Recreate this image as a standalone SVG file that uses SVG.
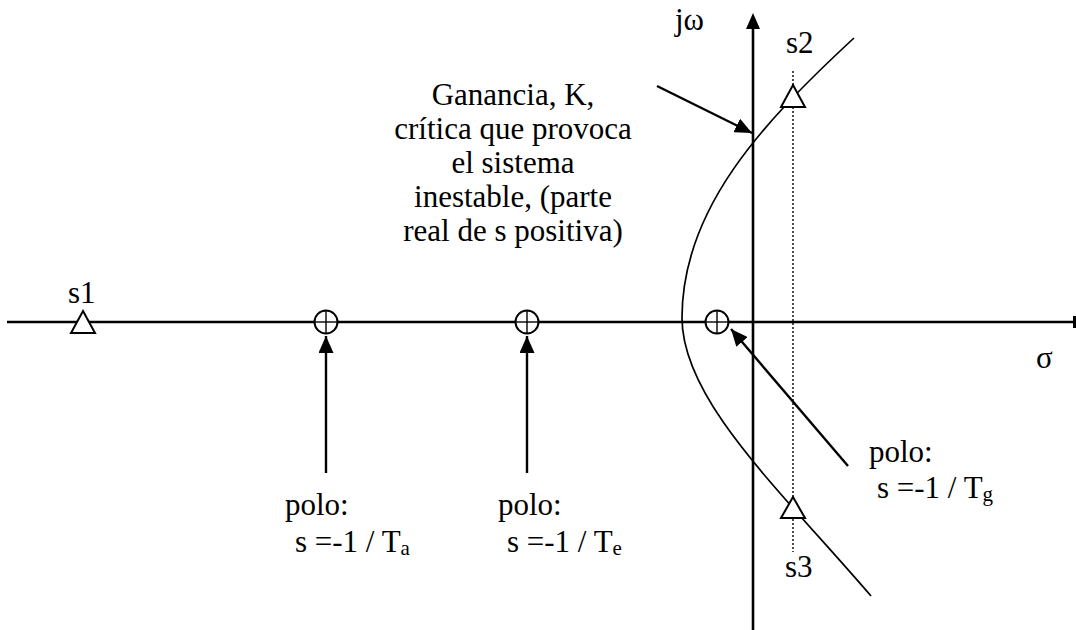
<svg xmlns="http://www.w3.org/2000/svg" width="1076" height="630" viewBox="0 0 1076 630">
<defs>
<style>
.ax{stroke:#000;stroke-width:2.6;fill:none}
.ln{stroke:#000;stroke-width:2.4;fill:none}
.cv{stroke:#000;stroke-width:1.7;fill:none}
.dot{stroke:#000;stroke-width:1.4;stroke-dasharray:2,2;fill:none}
.tri{stroke:#000;stroke-width:2;fill:#fff}
.pole{stroke:#000;stroke-width:2;fill:#fff}
.cross{stroke:#000;stroke-width:1.4}
.t{font-family:"Liberation Serif","Times New Roman",serif;font-size:31px;fill:#000}
.sub{font-size:21px}
</style>
<marker id="ah" viewBox="0 0 17 15" refX="17" refY="7.5" markerWidth="17" markerHeight="15" markerUnits="userSpaceOnUse" orient="auto">
<path d="M0,0 L17,7.5 L0,15 z" fill="#000"/>
</marker>
</defs>
<rect width="1076" height="630" fill="#fff"/>
<g id="axes">
<line class="ax" x1="7" y1="322" x2="1074" y2="322"/>
<rect x="1073" y="316" width="3" height="12" fill="#000"/>
<line class="ax" x1="753" y1="630" x2="753" y2="26"/>
<path d="M753,13 L760,29 L746,29 z" fill="#000"/>
<line class="dot" x1="793" y1="71" x2="793" y2="552"/>
</g>
<g id="locus">
<path class="cv" d="M854,38 C760,125 682,210 682,318 C682,400 780,490 871,596"/>
</g>
<g id="connectors">
<line class="ln" x1="326" y1="473" x2="326" y2="336" marker-end="url(#ah)"/>
<line class="ln" x1="527" y1="473" x2="527" y2="336" marker-end="url(#ah)"/>
<line class="ln" x1="848" y1="466" x2="731" y2="329" marker-end="url(#ah)"/>
<line class="ln" x1="657" y1="86" x2="752" y2="133" marker-end="url(#ah)"/>
</g>
<g id="s1"><path class="tri" d="M83,311 L95,333 L71,333 z"/><text class="t" x="68" y="303">s1</text></g>
<g id="s2"><path class="tri" d="M793,85 L805,107 L781,107 z"/><text class="t" x="786" y="53">s2</text></g>
<g id="s3"><path class="tri" d="M793,497 L805,518 L781,518 z"/><text class="t" x="785" y="577">s3</text></g>
<g id="pole-a"><circle class="pole" cx="326" cy="322" r="11.5"/><line class="cross" x1="314.5" y1="322" x2="337.5" y2="322"/><line class="cross" x1="326" y1="310.5" x2="326" y2="333.5"/>
<text class="t" x="285" y="515">polo:</text><text class="t" x="295" y="552">s =-1 / T<tspan class="sub" dy="3">a</tspan></text></g>
<g id="pole-e"><circle class="pole" cx="527" cy="322" r="11.5"/><line class="cross" x1="515.5" y1="322" x2="538.5" y2="322"/><line class="cross" x1="527" y1="310.5" x2="527" y2="333.5"/>
<text class="t" x="498" y="515">polo:</text><text class="t" x="507" y="552">s =-1 / T<tspan class="sub" dy="3">e</tspan></text></g>
<g id="pole-g"><circle class="pole" cx="717" cy="322" r="11.5"/><line class="cross" x1="705.5" y1="322" x2="728.5" y2="322"/><line class="cross" x1="717" y1="310.5" x2="717" y2="333.5"/>
<text class="t" x="869" y="462">polo:</text><text class="t" x="877" y="498">s =-1 / T<tspan class="sub" dy="3">g</tspan></text></g>
<g id="labels">
<text class="t" x="675" y="30">jω</text>
<text class="t" x="1036" y="368">σ</text>
</g>
<g id="note">
<text class="t" text-anchor="middle" x="513"><tspan x="513" y="105">Ganancia, K,</tspan><tspan x="513" y="139">crítica que provoca</tspan><tspan x="513" y="173">el sistema</tspan><tspan x="513" y="207">inestable, (parte</tspan><tspan x="513" y="241">real de s positiva)</tspan></text>
</g>
</svg>
